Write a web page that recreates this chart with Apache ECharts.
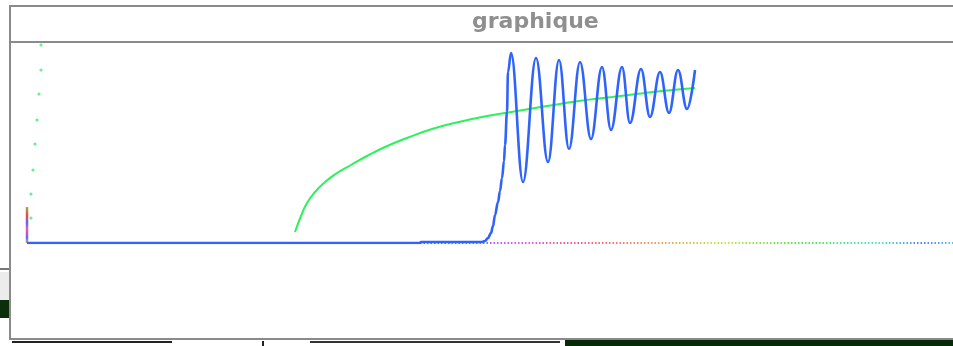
<!DOCTYPE html>
<html>
<head>
<meta charset="utf-8">
<script src="https://cdn.jsdelivr.net/npm/echarts@6/dist/echarts.min.js"></script>
<style>
html,body{margin:0;padding:0;background:#fff;}
#c{width:953px;height:346px;}
</style>
</head>
<body>
<div id="c"></div>
<script>
// Data (x: step, y: amplitude)
const titleText = 'graphique';
const blueX = [0, 393, 394, 455, 458, 461, 464, 466, 468, 471, 473, 475, 477, 478, 480, 481, 484, 496, 509, 521, 532, 542, 553, 564, 575, 584, 595, 603, 614, 623, 633, 642, 651, 660, 668];
const blueY = [0, 0, 1, 1, 2, 5, 10, 17, 28, 41, 52, 65, 82, 98, 131, 171, 190, 61, 185, 81, 183, 94, 181, 104, 176, 113, 176, 120, 174, 126, 171, 130, 173, 134, 173];
const greenX = [268, 274, 280, 288, 298, 310, 324, 340, 358, 380, 405, 432, 460, 490, 520, 552, 585, 618, 645, 668];
const greenY = [11, 27, 40, 51, 61, 70, 78, 87, 96, 105, 114, 121, 127, 132, 137, 142, 146, 150, 153, 155];
const dotX = [14, 14, 12, 10, 8, 6, 4, 4];
const dotY = [198, 173, 149, 123, 99, 73, 49, 25];
const barX = [0, 0];
const barY = [0, 36];
const baseX = [393, 926];
const baseY = [0, 0];

const zip = (a, b) => a.map((v, i) => [v, b[i]]);

const chart = echarts.init(document.getElementById('c'), null, {renderer: 'canvas'});
const G = echarts.graphic;
chart.setOption({
  animation: false,
  backgroundColor: '#ffffff',
  grid: {left: 27, right: 0, top: 45, bottom: 103, containLabel: false},
  xAxis: {type: 'value', min: 0, max: 926, show: false},
  yAxis: {type: 'value', min: 0, max: 198, show: false},
  series: [
    {
      type: 'line', data: zip(baseX, baseY), symbol: 'none', z: 1,
      lineStyle: {
        width: 2, type: [1.5, 2],
        color: new G.LinearGradient(0, 0, 1, 0, [
          {offset: 0, color: '#5566ff'},
          {offset: 0.18, color: '#dd55ff'},
          {offset: 0.3, color: '#ff5588'},
          {offset: 0.45, color: '#ff9955'},
          {offset: 0.57, color: '#bbee33'},
          {offset: 0.72, color: '#44ee44'},
          {offset: 0.86, color: '#44eecc'},
          {offset: 0.94, color: '#5577ff'},
          {offset: 1, color: '#55ccff'}
        ])
      }
    },
    {
      type: 'line', data: zip(barX, barY), symbol: 'none', z: 2,
      lineStyle: {
        width: 2.5,
        color: new G.LinearGradient(0, 1, 0, 0, [
          {offset: 0, color: '#ddcc33'},
          {offset: 0.2, color: '#6666ff'},
          {offset: 0.4, color: '#ff55aa'},
          {offset: 0.55, color: '#5566ff'},
          {offset: 0.75, color: '#ff4444'},
          {offset: 1, color: '#44ee44'}
        ])
      }
    },
    {
      type: 'line', data: zip(greenX, greenY), symbol: 'none', smooth: 0.5, z: 3,
      lineStyle: {width: 2, color: '#2bf25a'}
    },
    {
      type: 'line', data: zip(blueX, blueY), symbol: 'none', smooth: 0.4, smoothMonotone: 'x', z: 4,
      lineStyle: {width: 2.6, color: '#2f63ff'}
    },
    {
      type: 'scatter', data: zip(dotX, dotY), symbolSize: 3.2, z: 3,
      itemStyle: {color: '#3cf06a'}
    }
  ],
  graphic: [
    {type: 'rect', shape: {x: 0, y: 272, width: 9, height: 28}, style: {fill: '#ececec'}, z: 1},
    {type: 'rect', shape: {x: 0, y: 268, width: 9, height: 2}, style: {fill: '#777'}, z: 1},
    {type: 'rect', shape: {x: 0, y: 300, width: 9, height: 18}, style: {fill: '#0b2e0b'}, z: 1},
    {type: 'rect', shape: {x: 10, y: 5, width: 943, height: 2}, style: {fill: '#8a8a8a'}, z: 10},
    {type: 'rect', shape: {x: 10, y: 41, width: 943, height: 2}, style: {fill: '#8a8a8a'}, z: 10},
    {type: 'rect', shape: {x: 9, y: 5, width: 2, height: 335}, style: {fill: '#8a8a8a'}, z: 10},
    {type: 'rect', shape: {x: 9, y: 338, width: 944, height: 2}, style: {fill: '#8a8a8a'}, z: 10},
    {type: 'rect', shape: {x: 565, y: 340, width: 388, height: 6}, style: {fill: '#072a07'}, z: 10},
    {type: 'rect', shape: {x: 12, y: 341, width: 160, height: 2}, style: {fill: '#222'}, z: 10},
    {type: 'rect', shape: {x: 262, y: 341, width: 2, height: 5}, style: {fill: '#222'}, z: 10},
    {type: 'rect', shape: {x: 310, y: 341, width: 250, height: 2}, style: {fill: '#333'}, z: 10},
    {
      type: 'text', left: 472, top: 11, z: 10,
      style: {text: titleText, fill: '#8f8f8f', font: 'bold 22px "DejaVu Sans"'}
    }
  ]
});
</script>
</body>
</html>
